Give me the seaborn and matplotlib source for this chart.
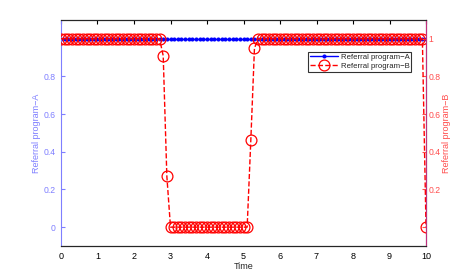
import numpy as np
import matplotlib
matplotlib.use("Agg")
import matplotlib.pyplot as plt
import seaborn as sns

# === Data ===
time = np.round(np.arange(0, 10.01, 0.1), 1)
program_a = [1.0] * 101
program_b = [1.0] * 28 + [0.91, 0.27] + [0.0] * 22 + [0.46, 0.95] + [1.0] * 46 + [0.0]

blue = "#0000ff"
red = "#ff0000"
blue_axis = "#7f7fff"
red_axis = "#ff4d4d"

sns.set_style("white")
plt.rcParams["font.family"] = ["Liberation Sans", "DejaVu Sans"]
plt.rcParams["font.size"] = 6

fig = plt.figure(figsize=(4.71, 2.77), dpi=100)
ax = fig.add_axes([0.1295, 0.112, 0.775, 0.816])
ax2 = ax.twinx()

sns.lineplot(x=time, y=program_a, ax=ax, color=blue, marker="o", markersize=2.2,
             markeredgecolor=blue, linewidth=1.0, label="Referral program−A", legend=False)
sns.lineplot(x=time, y=program_b, ax=ax2, color=red, marker="o", markersize=7.8,
             markerfacecolor="none", markeredgecolor=red, markeredgewidth=0.9,
             linestyle="--", linewidth=1.0, label="Referral program−B", legend=False)

for a in (ax, ax2):
    a.set_xlim(0, 10)
    a.set_ylim(-0.1, 1.1)

ax.set_xticks(range(11))
ax.set_yticks([0, 0.2, 0.4, 0.6, 0.8])
ax.set_yticklabels(["0", "0.2", "0.4", "0.6", "0.8"])
ax2.set_yticks([0, 0.2, 0.4, 0.6, 0.8, 1])
ax2.set_yticklabels(["", "0.2", "0.4", "0.6", "0.8", "1"])

ax.tick_params(axis="x", direction="in", length=3, colors="black", top=True, labelsize=6.5, pad=4)
ax.tick_params(axis="y", direction="in", length=3, colors=blue_axis, labelsize=6.2, pad=4)
ax2.tick_params(axis="y", direction="in", length=3, colors=red_axis, labelsize=6.2, pad=2)

ax.spines["left"].set_color(blue_axis)
ax.spines["bottom"].set_color("black")
ax.spines["top"].set_color("black")
ax2.spines["right"].set_color("#c0307f")
ax2.spines["left"].set_visible(False)
for s in ax.spines.values():
    s.set_linewidth(0.8)
for s in ax2.spines.values():
    s.set_linewidth(0.8)

ax.set_xlabel("Time", fontsize=6.5, labelpad=1)
ax.set_ylabel("Referral program−A", color=blue_axis, fontsize=6.5, labelpad=2)
ax2.set_ylabel("Referral program−B", color=red_axis, fontsize=6.5, labelpad=1)

h1, l1 = ax.get_legend_handles_labels()
h2, l2 = ax2.get_legend_handles_labels()
leg = ax2.legend(h1 + h2, l1 + l2, loc="upper right", bbox_to_anchor=(0.96, 0.86),
                 prop={"size": 5.6}, frameon=True, fancybox=False, borderpad=0.25,
                 handlelength=3.6, labelspacing=0.15, handletextpad=0.3, borderaxespad=0)
leg.get_frame().set_edgecolor("black")
leg.get_frame().set_linewidth(0.8)

fig.savefig("out.png", dpi=100)
